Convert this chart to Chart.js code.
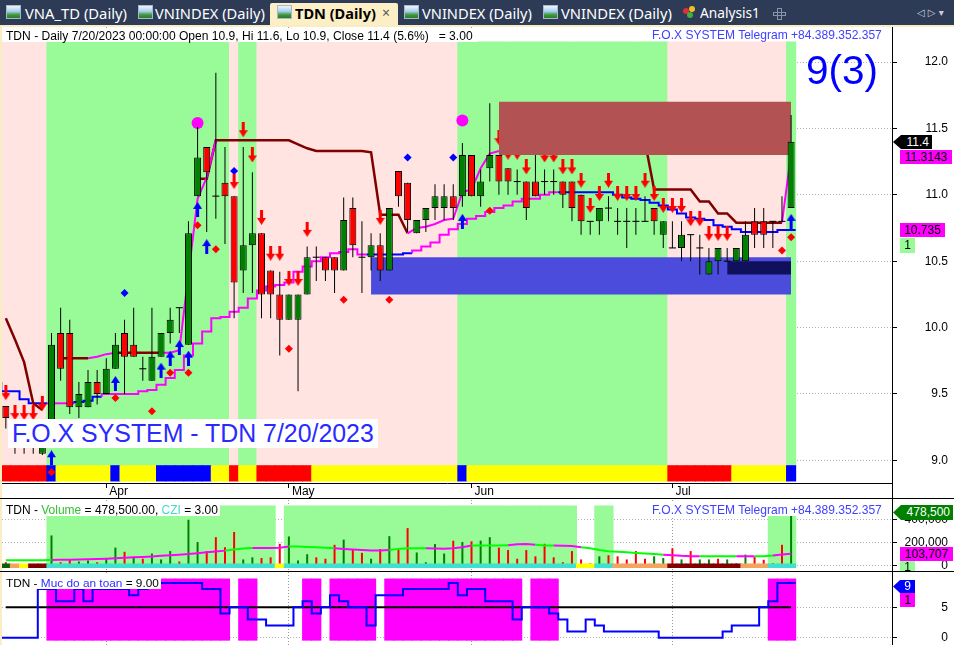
<!DOCTYPE html>
<html>
<head>
<meta charset="utf-8">
<title>TDN (Daily)</title>
<script src="https://cdn.jsdelivr.net/npm/chart.js"></script>
<style>
  body { margin: 0; width: 954px; height: 645px; overflow: hidden; position: relative; background: #fbedc2; font-family: "Liberation Sans", Arial, sans-serif; }
  #tabs { position: absolute; left: 0; top: 0; width: 954px; height: 25px; background: #2e3b56; }
  #activeTab { position: absolute; left: 270px; top: 3px; width: 128px; height: 22px; background: #fcefc6; border-radius: 2px 2px 0 0; }
  .tab { position: absolute; top: 3px; height: 20px; line-height: 20px; color: #fff; font-family: "Noto Sans", sans-serif; font-size: 15px; white-space: nowrap; }
  .ico { position: absolute; top: 5px; width: 13px; height: 12px; border: 1px solid #a9b8c8; background: linear-gradient(#eef5fc 0%, #a8cdef 45%, #3f9c3f 72%, #2b7a2b 100%); }
  .pane { position: absolute; left: 2px; width: 952px; background: #fff; }
  .rule { position: absolute; left: 0; width: 954px; height: 1px; background: #000; }
  canvas { position: absolute; left: 0; }
  .txt { position: absolute; white-space: nowrap; background: #fff; box-sizing: border-box; }
  .tag { position: absolute; height: 14px; line-height: 14px; font-size: 12px; white-space: nowrap; box-sizing: border-box; text-align: center; }
</style>
</head>
<body>
<div id="tabs">
  <div class="ico" style="left:6px"></div><span class="tab" id="tab1" style="left:25px">VNA_TD (Daily)</span>
  <div class="ico" style="left:138px"></div><span class="tab" id="tab2" style="left:155px">VNINDEX (Daily)</span>
  <div id="activeTab"></div>
  <div class="ico" style="left:277px"></div><span class="tab" id="tab3" style="left:295px;color:#000;font-weight:bold">TDN (Daily)</span>
  <span class="tab" style="left:382px;color:#555;font-size:14px">×</span>
  <div class="ico" style="left:404px"></div><span class="tab" id="tab4" style="left:422px">VNINDEX (Daily)</span>
  <div class="ico" style="left:543px"></div><span class="tab" id="tab5" style="left:561px">VNINDEX (Daily)</span>
  <div style="position:absolute;left:683px;top:8px;width:6px;height:6px;border-radius:3px;background:#e03030"></div>
  <div style="position:absolute;left:689px;top:6px;width:6px;height:6px;border-radius:3px;background:#f0c020"></div>
  <div style="position:absolute;left:687px;top:12px;width:6px;height:6px;border-radius:3px;background:#40b040"></div>
  <span class="tab" id="tab6" style="left:700px">Analysis1</span>
  <div style="position:absolute;left:777px;top:8px;width:3px;height:10px;border:1px solid #8894a8"></div>
  <div style="position:absolute;left:773px;top:12px;width:11px;height:2px;border:1px solid #8894a8;border-left-width:1px"></div>
  <span class="tab" style="left:917px;top:3px;font-size:10px;color:#c8cfdc;font-family:'DejaVu Sans'">◁ ▷ ▾</span>
</div>

<div class="pane" style="top:27px;height:471px"></div>
<div class="pane" style="top:499px;height:72px"></div>
<div class="pane" style="top:572px;height:73px"></div>

<canvas id="cMain" width="954" height="471" style="top:27px"></canvas>
<canvas id="cVol" width="954" height="72" style="top:499px"></canvas>
<canvas id="cSafe" width="954" height="73" style="top:572px"></canvas>

<div class="rule" style="top:498px"></div>
<div class="rule" style="top:571px"></div>
<div style="position:absolute;left:892px;top:27px;width:1px;height:618px;background:#000"></div>

<!-- main pane texts -->
<div class="txt" style="left:3px;top:28px;width:474px;height:14px;line-height:14px;padding-left:3px"><span id="t1" style="font-size:12px">TDN - Daily 7/20/2023 00:00:00 Open 10.9, Hi 11.6, Lo 10.9, Close 11.4 (5.6%)&nbsp;&nbsp;&nbsp;= 3.00</span></div>
<div class="txt" style="left:650px;top:27px;height:14px;line-height:14px;padding:0 2px"><span id="t2" style="font-size:12px;color:#4040ff">F.O.X SYSTEM Telegram +84.389.352.357</span></div>
<div class="txt" style="left:806px;top:45px;height:50px;line-height:50px;background:transparent"><span id="t3" style="font-size:44px;color:#0000ff">9(3)</span></div>
<div class="txt" style="left:8px;top:419px;width:370px;height:29px;line-height:29px;padding-left:4px"><span id="t4" style="font-size:26px;color:#2a2aff">F.O.X SYSTEM - TDN 7/20/2023</span></div>

<div class="tag" style="left:893px;top:135px;width:39px;background:#000;color:#fff;text-align:right;padding-right:3px;clip-path:polygon(0 50%,8px 0,100% 0,100% 100%,8px 100%)">11.4</div>
<div class="tag" style="left:900px;top:150px;width:52px;background:#ff00ff">11.3143</div>
<div class="tag" style="left:900px;top:223px;width:45px;background:#ff00ff">10.735</div>
<div class="tag" style="left:900px;top:238px;width:15px;height:15px;background:#98fb98">1</div>

<!-- volume pane texts -->
<div class="txt" style="left:3px;top:502px;width:217px;height:14px;line-height:14px;padding-left:3px"><span id="v1" style="font-size:12px">TDN - <span style="color:#30c030">Volume</span> = 478,500.00, <span style="color:#40d8d0">CZI</span> = 3.00</span></div>
<div class="txt" style="left:650px;top:502px;height:14px;line-height:14px;padding:0 2px"><span id="v2" style="font-size:12px;color:#4040ff">F.O.X SYSTEM Telegram +84.389.352.357</span></div>
<div class="tag" style="left:893px;top:505px;width:60px;height:15px;line-height:15px;background:#008000;color:#fff;text-align:right;padding-right:3px;clip-path:polygon(0 50%,8px 0,100% 0,100% 100%,8px 100%)">478,500</div>
<div class="tag" style="left:900px;top:547px;width:53px;background:#ff00ff">103,707</div>
<div class="tag" style="left:900px;top:561px;width:15px;height:10px;line-height:12px;background:#98fb98;overflow:hidden">1</div>

<!-- safety pane texts -->
<div class="txt" style="left:3px;top:575px;width:158px;height:14px;line-height:14px;padding-left:3px"><span id="s1" style="font-size:12px">TDN - <span style="color:#3030ff">Muc do an toan</span> = 9.00</span></div>
<div class="tag" style="left:893px;top:580px;width:22px;height:13px;line-height:13px;background:#0000ff;color:#fff;text-align:right;padding-right:4px;clip-path:polygon(0 50%,7px 0,100% 0,100% 100%,7px 100%)">9</div>
<div class="tag" style="left:900px;top:593px;width:15px;height:14px;background:#ff00ff">1</div>

<script>
// ---------- data ----------
var months = ['Apr', 'May', 'Jun', 'Jul'];
var monthStart = [11, 31, 51, 73];
var priceTicks = [9.0, 9.5, 10.0, 10.5, 11.0, 11.5, 12.0];
var volTicks = [0, 200000, 400000];
var safeTicks = [0, 5];

var open = [9.41, 9.15, 9.15, 9.15, 9.05, 9.2, 9.96, 9.96, 9.4, 9.4,
  9.59, 9.5, 9.69, 9.96, 9.87, 9.69, 9.6, 9.78, 9.96, 10.15,
  9.87, 10.99, 11.36, 10.99, 11.09, 10.99, 10.43, 10.62, 10.71, 10.43,
  10.25, 10.06, 10.06, 10.25, 10.53, 10.53, 10.53, 10.43, 10.9, 10.53,
  10.53, 10.62, 10.43, 11.18, 11.09, 10.71, 10.81, 10.9, 10.9, 10.99,
  10.99, 11.3, 10.99, 11.2, 11.3, 11.2, 11.1, 11.1, 11.1, 11.1,
  11.1, 11.1, 11.1, 11.0, 10.8, 10.8, 10.9, 10.8, 10.8, 10.8,
  10.8, 10.9, 10.7, 10.6, 10.6, 10.7, 10.6, 10.4, 10.5, 10.5,
  10.5, 10.5, 10.8, 10.8, 10.8, 10.8, 10.9];
var high = [9.41, 9.25, 9.25, 9.25, 9.3, 9.96, 10.15, 10.06, 9.59, 9.68,
  9.68, 9.77, 9.96, 10.06, 10.15, 9.78, 10.15, 9.96, 10.15, 10.15,
  10.8, 11.51, 11.36, 11.92, 11.36, 10.99, 11.36, 11.17, 10.71, 10.43,
  10.42, 10.25, 10.25, 10.61, 10.61, 10.53, 10.53, 10.98, 10.98, 10.8,
  10.71, 10.71, 10.9, 11.18, 11.09, 10.81, 10.9, 11.08, 11.08, 11.08,
  11.39, 11.3, 11.19, 11.69, 11.3, 11.2, 11.19, 11.1, 11.3, 11.19,
  11.19, 11.1, 11.1, 11.0, 10.8, 10.9, 10.99, 10.9, 10.9, 10.9,
  10.99, 10.9, 10.8, 10.8, 10.8, 10.7, 10.7, 10.6, 10.6, 10.6,
  10.6, 10.8, 10.9, 10.9, 10.8, 10.99, 11.6];
var low = [9.24, 9.05, 9.05, 9.05, 9.04, 9.1, 9.6, 9.35, 9.32, 9.4,
  9.42, 9.5, 9.69, 9.5, 9.78, 9.6, 9.6, 9.78, 9.88, 9.96,
  9.87, 10.99, 10.72, 10.82, 10.63, 10.07, 10.26, 10.26, 10.07, 10.07,
  9.79, 10.06, 9.52, 10.25, 10.35, 10.35, 10.26, 10.43, 10.53, 10.26,
  10.43, 10.35, 10.43, 10.91, 10.72, 10.71, 10.72, 10.81, 10.81, 10.81,
  10.91, 10.99, 10.91, 11.1, 11.0, 11.0, 11.0, 10.81, 10.99, 11.0,
  11.0, 10.9, 10.8, 10.7, 10.7, 10.7, 10.8, 10.7, 10.6, 10.7,
  10.8, 10.7, 10.6, 10.6, 10.5, 10.5, 10.4, 10.4, 10.4, 10.5,
  10.5, 10.5, 10.6, 10.6, 10.6, 10.8, 10.9];
var close = [9.32, 9.15, 9.15, 9.15, 9.22, 9.87, 9.69, 9.4, 9.5, 9.59,
  9.5, 9.69, 9.87, 9.78, 9.78, 9.69, 9.78, 9.96, 10.06, 10.15,
  10.71, 11.28, 11.17, 10.99, 10.99, 10.34, 10.62, 10.71, 10.25, 10.25,
  10.06, 10.25, 10.25, 10.53, 10.53, 10.43, 10.43, 10.81, 10.62, 10.53,
  10.62, 10.43, 10.9, 10.99, 10.81, 10.81, 10.9, 10.99, 10.99, 10.9,
  11.3, 10.99, 11.1, 11.3, 11.1, 11.1, 11.1, 10.9, 10.99, 11.1,
  11.1, 11.0, 10.9, 10.8, 10.8, 10.9, 10.9, 10.8, 10.8, 10.8,
  10.8, 10.8, 10.8, 10.6, 10.7, 10.7, 10.6, 10.5, 10.6, 10.5,
  10.6, 10.7, 10.7, 10.7, 10.8, 10.8, 11.4];

// trailing stops
var stopDown = [10.07, 9.91, 9.74, 9.43, 9.38, null, 9.77, 9.77, 9.77, 9.77,
  null, null, 9.81, 9.81, 9.81, 9.81, 9.81, 9.81, null, null,
  null, 11.12, 11.12, 11.41, 11.41, 11.41, 11.41, 11.41, 11.41, 11.41,
  11.41, 11.41, 11.38, 11.35, 11.33, 11.33, 11.33, 11.33, 11.33, 11.33,
  11.32, 10.85, 10.85, 10.85, 10.71, null, null, null, null, null,
  null, null, null, null, null, null, null, null, null, null,
  null, null, null, null, null, null, null, null, null, null,
  11.4, 11.04, 11.04, 11.04, 11.04, 11.04, 10.95, 10.95, 10.86, 10.86,
  10.79, 10.79, 10.79, 10.79, 10.79, 10.79, null];
var stopUp = [null, null, null, null, null, null, null, null, null, 9.77,
  9.78, 9.8, 9.81, null, null, null, null, 9.81, 9.81, 9.83,
  10.4, 10.97, 11.13, 11.41, null, null, null, null, null, null,
  null, null, null, null, null, null, null, null, null, null,
  null, null, null, null, 10.71, 10.75, 10.76, 10.78, 10.81, 10.82,
  11.02, 11.04, 11.2, 11.31, 11.33, null, null, null, null, null,
  null, null, null, null, null, null, null, null, null, null,
  null, null, null, null, null, null, null, null, null, null,
  null, null, null, null, null, 10.79, 11.31];
var support = [9.59, 9.52, 9.52, 9.46, 9.43, 9.43, 9.43, 9.43, 9.43, 9.44,
  9.45, 9.48, 9.5, 9.5, 9.5, 9.5, 9.52, 9.53, 9.57, 9.62,
  9.68, 9.79, 9.88, 9.97, 10.07, 10.08, 10.12, 10.15, 10.22, 10.28,
  10.31, 10.32, 10.34, 10.42, 10.46, 10.5, 10.53, 10.56, 10.57, 10.59,
  10.55, 10.55, 10.55, 10.55, 10.55, 10.56, 10.58, 10.61, 10.64, 10.7,
  10.74, 10.78, 10.82, 10.84, 10.87, 10.9, 10.92, 10.95, 10.97, 10.97,
  11.0, 11.02, 11.02, 11.02, 11.02, 11.02, 11.02, 11.02, 11.0, 10.98,
  10.97, 10.96, 10.94, 10.92, 10.89, 10.86, 10.83, 10.82, 10.81, 10.77,
  10.76, 10.74, 10.72, 10.72, 10.72, 10.72, 10.735];
var supportMode = ('BBBBBMMMBB' + 'BMMMMMMMMM' + 'MMMMMMMMMM' + 'MMMMMMMMMM' + 'BBBBBMMMMM' +
  'MMMMMMMMMM' + 'MBBBBBBBBB' + 'BBBBBBBBBB' + 'BBBBBBB').split('');

// signals
var redArrowBar = [0, 1, 2, 3, 4, 25, 26, 27, 28, 29, 30, 31, 32, 33, 41, 54, 55, 56, 57,
  59, 60, 61, 62, 63, 64, 65, 66, 67, 68, 69, 70, 71, 72, 73, 74, 75, 76, 77, 78, 79];
var redArrowY = [9.51, 9.36, 9.36, 9.36, 9.43, 11.10, 11.49, 11.30, 10.83, 10.56, 10.56, 10.37, 10.37, 10.74, 10.83, 11.43, 11.32, 11.32, 11.21,
  11.30, 11.30, 11.21, 11.21, 11.11, 10.92, 11.01, 11.11, 11.01, 11.01, 11.01, 11.11, 11.01, 10.92, 10.92, 10.92, 10.82, 10.82, 10.71, 10.71, 10.71];
var blueArrowBar = [5, 12, 17, 18, 19, 20, 21, 22, 50, 86];
var blueArrowY = [9.02, 9.58, 9.68, 9.77, 9.85, 9.77, 10.89, 10.61, 10.80, 10.80];
var redDotBar = [5, 12, 16, 18, 20, 21, 23, 31, 37, 42, 53, 85, 86];
var redDotY = [8.91, 9.47, 9.37, 9.66, 9.66, 10.77, 10.59, 9.84, 10.21, 10.21, 10.88, 10.58, 10.68];
var blueDotBar = [13, 25, 44, 49];
var blueDotY = [10.26, 11.18, 11.28, 11.28];
var pinkDotBar = [21, 50];
var pinkDotY = [11.54, 11.56];

// supply / demand boxes
var boxFrom = [40, 79, 54];
var boxTo = [86, 86, 86];
var boxLo = [10.25, 10.40, 11.30];
var boxHi = [10.53, 10.50, 11.70];

var trendZone = ('PPPPPGGGGG' + 'GGGGGGGGGG' + 'GGGGGPGGPP' + 'PPPPPPPPPP' + 'PPPPPPPPPP' +
  'GGGGGGGGGG' + 'GGGGGGGGGG' + 'GGGPPPPPPP' + 'PPPPPPG').split('');
var signalBand = ('RRRRRBYYYY' + 'YYBYYYYBBB' + 'BBBYYRYYRR' + 'RRRRYYYYYY' + 'YYYYYYYYYY' +
  'BYYYYYYYYY' + 'YYYYYYYYYY' + 'YYYRRRRRRR' + 'YYYYYYB').split('');

// volume pane
var volume = [30000, 12000, 15000, 6000, 6000, 261000, 30000, 54000, 36000, 45000,
  30000, 60000, 156000, 120000, 72000, 60000, 105000, 54000, 126000, 36000,
  396000, 204000, 126000, 246000, 159000, 291000, 54000, 72000, 66000, 72000,
  189000, 252000, 45000, 99000, 72000, 60000, 180000, 225000, 144000, 111000,
  60000, 144000, 255000, 135000, 324000, 114000, 30000, 186000, 105000, 216000,
  204000, 210000, 216000, 246000, 156000, 135000, 60000, 135000, 81000, 189000,
  72000, 30000, 126000, 54000, 21000, 81000, 90000, 81000, 54000, 126000,
  60000, 81000, 66000, 150000, 54000, 126000, 54000, 54000, 60000, 54000,
  21000, 96000, 75000, 51000, 21000, 180000, 478500];
var volUp = ('RGGRGGRRGG' + 'RGGRGRGGGR' + 'GGRRRRGGRR' + 'RGGGRRRGRR' + 'GRGRRGGGGR' +
  'GRGGRRRRRR' + 'RRRRRGRRRR' + 'RGGRGRGGRG' + 'GGRRRRG').split('');
var volAvg = [48000, 48000, 48000, 48000, 48000, 50000, 51000, 52000, 53000, 55000,
  57000, 60000, 64000, 68000, 72000, 76000, 80000, 85000, 90000, 95000,
  100000, 108000, 115000, 122000, 130000, 140000, 148000, 152000, 152000, 153000,
  155000, 165000, 165000, 162000, 160000, 155000, 150000, 145000, 140000, 135000,
  130000, 130000, 135000, 145000, 151000, 151000, 150000, 148000, 146000, 151000,
  160000, 174000, 174000, 174000, 174000, 176000, 185000, 188000, 180000, 174000,
  174000, 172000, 170000, 160000, 150000, 135000, 125000, 120000, 115000, 110000,
  105000, 100000, 95000, 90000, 85000, 82000, 81000, 81000, 81000, 81000,
  81000, 81000, 82000, 82000, 88000, 96000, 103707];
var volAvgMode = ('GGGGGMMMMM' + 'MMMMMMMMMM' + 'MMMMGGGMMM' + 'MGGGGGMMMM' + 'MMGGGGMMMM' +
  'MGGGGMMMGG' + 'MMMGGGGGGG' + 'GGMMMMGGGG' + 'MMGGMMM').split('');
var volZone = ('-----GGGGG' + 'GGGGGGGGGG' + 'GGGGGGGGGG' + '-GGGGGGGGG' + 'GGGGGGGGGG' +
  'GGGGGGGGGG' + 'GGG--GG---' + '----------' + '----GGG').split('');
var cziBand = ('DOYMMCCCCC' + 'CCCCCCCCCC' + 'CCCCCCCCCC' + 'YCCCCCCCCC' + 'CCCCCCCCCC' +
  'CCCCCCCCCC' + 'CCCYYCCOOO' + 'OOOMMMMMMM' + 'MOOOCCC').split('');

// safety pane ("Muc do an toan")
var safety = [0, 0, 0, 0, 0, 8, 8, 6, 6, 8,
  6, 8, 8, 8, 8, 7, 8, 9, 9, 9,
  9, 9, 9, 8, 8, 4, 5, 5, 3, 3,
  2, 2, 2, 5, 6, 4, 5, 7, 6, 5,
  5, 2, 7, 7, 7, 8, 8, 8, 8, 8,
  9, 7, 8, 8, 6, 6, 6, 3, 5, 5,
  5, 4, 3, 1, 1, 3, 2, 1, 1, 1,
  1, 1, 1, 0, 0, 0, 0, 0, 0, 0,
  1, 2, 2, 2, 5, 6, 9];
var safetyZone = ('-----MMMMM' + 'MMMMMMMMMM' + 'MMMMM-MM--' + '---MM-MMMM' + 'M-MMMMMMMM' +
  'MMMMMMM-MM' + 'M---------' + '----------' + '----MMM').split('');
var safetyLevel = 5;

// ---------- helpers ----------
Chart.defaults.font.family = '"Liberation Sans", Arial, sans-serif';
Chart.defaults.font.size = 12;
Chart.defaults.color = '#000';

var X_MIN = -0.42, X_MAX = 97.05;
var last = open.length - 1;

function pts(arr) {
  return arr.map(function (v, i) { return {x: i, y: v}; });
}
function steps(arr) {
  var p = arr.map(function (v, i) { return {x: i - 0.5, y: v}; });
  p.push({x: arr.length - 0.5, y: arr[arr.length - 1]});
  return p;
}
function marks(bars, ys) {
  return bars.map(function (b, k) { return {x: b, y: ys[k]}; });
}
function cellSet(codes, lo, hi, palette) {
  var data = [], colors = [];
  codes.forEach(function (c, i) {
    if (palette[c]) {
      data.push({x: i, y: [lo, hi]});
      colors.push(palette[c]);
    }
  });
  return {data: data, colors: colors};
}
function barSet(order, data, colors, extra) {
  var ds = {
    type: 'bar', order: order, data: data, backgroundColor: colors,
    grouped: false, categoryPercentage: 1, barPercentage: 1,
    borderWidth: 0, borderSkipped: false, inflateAmount: 0.5
  };
  for (var k in extra) ds[k] = extra[k];
  return ds;
}
function arrowImg(color, up) {
  var c = document.createElement('canvas');
  c.width = 9; c.height = 15;
  var g = c.getContext('2d');
  g.fillStyle = color;
  g.beginPath();
  if (up) {
    g.moveTo(4.5, 0); g.lineTo(9, 7); g.lineTo(6, 7); g.lineTo(6, 15);
    g.lineTo(3, 15); g.lineTo(3, 7); g.lineTo(0, 7);
  } else {
    g.moveTo(3, 0); g.lineTo(6, 0); g.lineTo(6, 8); g.lineTo(9, 8);
    g.lineTo(4.5, 15); g.lineTo(0, 8); g.lineTo(3, 8);
  }
  g.closePath();
  g.fill();
  return c;
}
function noPad(s) {
  s.paddingTop = 0; s.paddingBottom = 0; s.paddingLeft = 0; s.paddingRight = 0;
}
function xAxis(showLabels) {
  return {
    type: 'linear', min: X_MIN, max: X_MAX, offset: false,
    afterBuildTicks: function (s) { s.ticks = monthStart.map(function (v) { return {value: v}; }); },
    afterFit: function (s) { s.height = showLabels ? 15 : 0; noPad(s); },
    ticks: {
      display: showLabels, autoSkip: false, maxRotation: 0, minRotation: 0,
      align: 'start', labelOffset: 3, padding: -4,
      callback: function (v) { return months[monthStart.indexOf(v)]; }
    },
    grid: { offset: false, color: '#9a9a9a', drawTicks: showLabels, tickLength: 5, tickColor: '#000' },
    border: { display: showLabels, color: '#000', dash: [1, 2] }
  };
}
function yAxis(min, max, ticks, fmt, pad) {
  return {
    position: 'right', min: min, max: max,
    afterBuildTicks: function (s) { s.ticks = ticks.map(function (v) { return {value: v}; }); },
    afterFit: function (s) { s.width = 56; noPad(s); },
    ticks: { crossAlign: 'far', padding: pad, callback: fmt },
    grid: { color: '#b0b0b0', tickLength: 5, tickColor: '#000' },
    border: { color: '#000', dash: [1, 2] }
  };
}
function makeChart(id, pad, showX, y, datasets) {
  return new Chart(document.getElementById(id), {
    type: 'bar',
    data: { datasets: datasets },
    options: {
      responsive: false, animation: false, events: [],
      layout: { padding: pad, autoPadding: false },
      plugins: { legend: { display: false }, tooltip: { enabled: false } },
      scales: { x: xAxis(showX), y: y }
    }
  });
}

// ---------- main price pane ----------
var zones = cellSet(trendZone, 8.96, 12.15, {G: '#98fb98', P: '#ffe4e1'});
var band = cellSet(signalBand, 8.845, 8.96, {R: '#ff0000', Y: '#ffff00', B: '#0000ff'});

function isDoji(i) { return Math.abs(open[i] - close[i]) < 0.005; }
var bodyData = open.map(function (o, i) {
  if (isDoji(i)) return {x: i, y: [o - 0.004, o + 0.004]};
  return {x: i, y: [Math.min(o, close[i]), Math.max(o, close[i])]};
});
var bodyColor = open.map(function (o, i) {
  return isDoji(i) ? '#000' : (close[i] > o ? '#008000' : '#ff0000');
});
var bodyBorder = open.map(function (o, i) { return isDoji(i) ? 0 : 1; });
var wickData = low.map(function (l, i) { return {x: i, y: [l, high[i]]}; });

var boxColor = ['#4b4bdc', '#10105c', '#b25252'];
var boxOrder = [8, 7, 3];
var boxSets = boxFrom.map(function (f, k) {
  return {
    type: 'line', order: boxOrder[k],
    data: [{x: f, y: boxHi[k]}, {x: boxTo[k], y: boxHi[k]}],
    fill: { value: boxLo[k] }, backgroundColor: boxColor[k],
    borderWidth: 0, borderColor: 'transparent', pointRadius: 0
  };
});

var mainSets = [
  barSet(10, zones.data, zones.colors),
  barSet(9, band.data, band.colors),
  {
    type: 'line', order: 6, data: steps(support), stepped: 'after',
    borderColor: '#0000ff', borderWidth: 2, pointRadius: 0,
    segment: { borderColor: function (ctx) { return supportMode[ctx.p0DataIndex] === 'M' ? '#ff00ff' : '#0000ff'; } }
  },
  { type: 'line', order: 5.5, data: pts(stopDown), borderColor: '#800000', borderWidth: 2.5, pointRadius: 0, spanGaps: false },
  { type: 'line', order: 5, data: pts(stopUp), borderColor: '#ff00ff', borderWidth: 2, pointRadius: 0, spanGaps: false },
  { type: 'line', order: 4, showLine: false, data: marks(redArrowBar, redArrowY), pointStyle: arrowImg('#ff0000', false), pointRadius: 5 },
  { type: 'line', order: 4, showLine: false, data: marks(blueArrowBar, blueArrowY), pointStyle: arrowImg('#0000ff', true), pointRadius: 5 },
  { type: 'line', order: 4, showLine: false, data: marks(redDotBar, redDotY), pointStyle: 'rectRot', pointRadius: 4, backgroundColor: '#ff0000', borderWidth: 0 },
  { type: 'line', order: 4, showLine: false, data: marks(blueDotBar, blueDotY), pointStyle: 'rectRot', pointRadius: 4, backgroundColor: '#0000ff', borderWidth: 0 },
  { type: 'line', order: 4, showLine: false, data: marks(pinkDotBar, pinkDotY), pointStyle: 'circle', pointRadius: 6, backgroundColor: '#ff00ff', borderWidth: 0 },
  barSet(2, wickData, '#000', { barThickness: 1, inflateAmount: 0 }),
  barSet(1, bodyData, bodyColor, { barThickness: 7, inflateAmount: 0, borderWidth: bodyBorder, borderColor: '#000' })
].concat(boxSets);

makeChart('cMain', {left: 2, right: 6, top: 0, bottom: 0}, true,
  yAxis(8.8298, 12.2636, priceTicks, function (v) { return v.toFixed(1); }, 27.6),
  mainSets);

// ---------- volume pane ----------
var vZones = cellSet(volZone, 0, 514700, {G: '#98fb98'});
var czi = cellSet(cziBand, -15500, 14700, {D: '#0b5e0b', O: '#f4a460', Y: '#ffff00', M: '#800000', C: '#40e0d0'});
var volColor = volUp.map(function (c) { return c === 'G' ? '#008000' : '#ff0000'; });

makeChart('cVol', {left: 2, right: 6, top: 1, bottom: 1}, false,
  yAxis(-37069, 566379, volTicks, function (v) { return v.toLocaleString('en-US'); }, 7.6),
  [
    barSet(10, vZones.data, vZones.colors),
    barSet(6, pts(volume), volColor, { barThickness: 2, inflateAmount: 0 }),
    barSet(5, czi.data, czi.colors),
    {
      type: 'line', order: 4, data: pts(volAvg), borderColor: '#00ff00', borderWidth: 2, pointRadius: 0,
      segment: { borderColor: function (ctx) { return volAvgMode[ctx.p0DataIndex] === 'M' ? '#ff00ff' : '#00ff00'; } }
    }
  ]);

// ---------- safety pane ----------
var sZones = cellSet(safetyZone, -0.4, 9.65, {M: '#ff00ff'});

makeChart('cSafe', {left: 2, right: 6, top: 0, bottom: 0}, false,
  yAxis(-1.2, 10.806, safeTicks, function (v) { return String(v); }, 44.3),
  [
    barSet(10, sZones.data, sZones.colors),
    { type: 'line', order: 5, data: [{x: 0, y: safetyLevel}, {x: last, y: safetyLevel}], borderColor: '#000', borderWidth: 2, pointRadius: 0 },
    { type: 'line', order: 4, data: steps(safety), stepped: 'after', borderColor: '#0000ff', borderWidth: 2, pointRadius: 0 }
  ]);

// ---------- text fitting ----------
function fitWidth(id, w) {
  var el = document.getElementById(id);
  var size = parseFloat(getComputedStyle(el).fontSize);
  var cur = el.getBoundingClientRect().width;
  if (cur > 0) el.style.fontSize = (size * w / cur).toFixed(2) + 'px';
}
fitWidth('t1', 467);
fitWidth('t2', 230);
fitWidth('t3', 72);
fitWidth('t4', 362);
fitWidth('v1', 212);
fitWidth('v2', 230);
fitWidth('s1', 153);
fitWidth('tab1', 102);
fitWidth('tab2', 110);
fitWidth('tab3', 81);
fitWidth('tab4', 110);
fitWidth('tab5', 111);
fitWidth('tab6', 60);
</script>
</body>
</html>
